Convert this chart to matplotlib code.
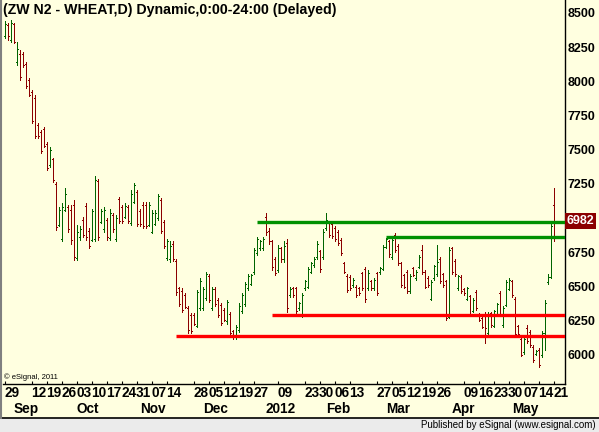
import numpy as np
import pandas as pd
import matplotlib
matplotlib.use('Agg')
import matplotlib.pyplot as plt
import matplotlib.transforms as mtransforms
from matplotlib.collections import LineCollection
from matplotlib.patches import Rectangle
from matplotlib.lines import Line2D

plt.rcParams['font.family'] = ['Liberation Sans', 'DejaVu Sans']

# ---- trading calendar (ZW N2 daily, Aug 29 2011 .. May 21 2012) ----------- #
HOLIDAYS = ['2011-09-05', '2011-11-24', '2011-12-26', '2012-01-02',
            '2012-01-16', '2012-02-20', '2012-04-06']

# ---- OHLC ----------------------------------------------------------------- #
high = [
    8445, 8425, 8450, 8430, 8290, 8230, 8215, 8145, 8025, 7935,
    7900, 7695, 7645, 7665, 7555, 7520, 7440, 7265, 7085, 7110,
    7220, 7095, 7095, 7135, 6950, 6940, 7010, 7110, 6925, 7070,
    7305, 7290, 7070, 7085, 7000, 7070, 7035, 7025, 7155, 7095,
    7110, 7095, 7205, 7255, 7205, 7065, 7120, 7120, 7120, 7060,
    7060, 7180, 7145, 6985, 6850, 6830, 6830, 6705, 6500, 6490,
    6450, 6355, 6305, 6305, 6475, 6560, 6500, 6610, 6595, 6500,
    6500, 6415, 6380, 6340, 6400, 6315, 6185, 6220, 6380, 6450,
    6535, 6595, 6595, 6780, 6865, 6840, 6865, 7035, 6925, 6840,
    6720, 6805, 6790, 6830, 6845, 6500, 6500, 6500, 6390, 6450,
    6550, 6645, 6680, 6720, 6830, 6770, 6920, 7035, 6975, 6975,
    6940, 6915, 6855, 6680, 6595, 6585, 6560, 6510, 6500, 6610,
    6645, 6620, 6550, 6560, 6610, 6645, 6805, 6855, 6840, 6855,
    6890, 6815, 6680, 6595, 6620, 6595, 6645, 6620, 6730, 6805,
    6620, 6575, 6550, 6660, 6805, 6720, 6600, 6550, 6790, 6790,
    6705, 6585, 6585, 6490, 6500, 6440, 6415, 6475, 6305, 6280,
    6315, 6315, 6315, 6330, 6380, 6465, 6355, 6550, 6560, 6550,
    6425, 6220, 6135, 6135, 6220, 6185, 6075, 6040, 6050, 6175,
    6400, 6590, 6970, 7220]
low = [
    8315, 8305, 8285, 8280, 8120, 8010, 8105, 7950, 7890, 7695,
    7585, 7585, 7475, 7520, 7350, 7375, 7265, 6915, 6940, 6830,
    7050, 6900, 6815, 6695, 6695, 6840, 6865, 6840, 6780, 6830,
    6830, 6840, 6965, 6900, 6840, 6840, 6900, 6830, 6965, 6965,
    7000, 6965, 6950, 7110, 6940, 6940, 6925, 6925, 6940, 6890,
    6950, 6985, 6890, 6780, 6695, 6680, 6690, 6440, 6355, 6315,
    6340, 6160, 6160, 6220, 6205, 6330, 6330, 6400, 6390, 6330,
    6355, 6280, 6220, 6245, 6230, 6145, 6120, 6120, 6170, 6305,
    6355, 6475, 6510, 6595, 6730, 6770, 6770, 6875, 6815, 6620,
    6585, 6610, 6680, 6680, 6315, 6425, 6425, 6305, 6330, 6280,
    6475, 6490, 6600, 6645, 6705, 6610, 6705, 6915, 6865, 6855,
    6830, 6805, 6730, 6600, 6460, 6475, 6500, 6425, 6440, 6475,
    6390, 6475, 6475, 6475, 6440, 6595, 6620, 6780, 6720, 6705,
    6755, 6660, 6500, 6490, 6450, 6450, 6575, 6550, 6635, 6595,
    6490, 6500, 6400, 6550, 6575, 6525, 6500, 6255, 6270, 6595,
    6575, 6475, 6450, 6440, 6400, 6290, 6315, 6330, 6245, 6195,
    6085, 6145, 6205, 6205, 6290, 6290, 6205, 6355, 6475, 6425,
    6135, 6135, 5990, 6010, 6085, 6060, 5950, 6000, 5915, 5985,
    6040, 6520, 6560, 6830]
opn = [
    8330, 8415, 8300, 8420, 8140, 8200, 8200, 8130, 8010, 7920,
    7880, 7680, 7630, 7650, 7540, 7390, 7430, 7250, 6950, 6850,
    7060, 7080, 7060, 7100, 6710, 6860, 6990, 7090, 6910, 6840,
    6850, 7270, 6975, 6920, 6985, 6855, 7020, 6845, 7140, 7080,
    7010, 7080, 6965, 7120, 7190, 7050, 7100, 7100, 6950, 6900,
    6960, 7000, 7130, 6970, 6710, 6700, 6810, 6690, 6490, 6470,
    6440, 6340, 6290, 6290, 6215, 6340, 6345, 6415, 6580, 6340,
    6485, 6400, 6365, 6330, 6245, 6300, 6175, 6130, 6185, 6320,
    6370, 6490, 6520, 6605, 6745, 6780, 6780, 7010, 6910, 6830,
    6700, 6620, 6780, 6700, 6820, 6440, 6490, 6490, 6340, 6300,
    6490, 6500, 6610, 6655, 6715, 6760, 6720, 6925, 6965, 6960,
    6925, 6900, 6840, 6670, 6580, 6570, 6510, 6500, 6490, 6600,
    6630, 6490, 6540, 6490, 6600, 6605, 6630, 6790, 6830, 6720,
    6880, 6800, 6670, 6585, 6610, 6465, 6635, 6560, 6645, 6770,
    6610, 6565, 6410, 6560, 6590, 6700, 6590, 6540, 6280, 6780,
    6690, 6490, 6570, 6480, 6410, 6430, 6325, 6460, 6295, 6270,
    6300, 6160, 6305, 6215, 6300, 6450, 6220, 6365, 6485, 6540,
    6410, 6210, 6120, 6020, 6200, 6170, 6060, 6010, 6040, 6000,
    6160, 6530, 6570, 7100]
close = [
    8420, 8330, 8425, 8290, 8240, 8030, 8120, 7970, 7900, 7710,
    7600, 7600, 7490, 7530, 7365, 7500, 7280, 6935, 7060, 7080,
    7180, 6920, 6840, 6720, 6900, 6920, 6880, 6860, 6800, 7050,
    7280, 6860, 7050, 7060, 6860, 7040, 6920, 7000, 6980, 6980,
    7090, 6980, 7180, 7240, 6960, 6955, 6945, 6940, 7100, 7040,
    7040, 7160, 6910, 6800, 6830, 6800, 6700, 6460, 6370, 6330,
    6350, 6180, 6175, 6230, 6460, 6540, 6480, 6590, 6405, 6480,
    6370, 6295, 6235, 6255, 6385, 6160, 6135, 6205, 6360, 6440,
    6520, 6580, 6585, 6770, 6850, 6830, 6850, 6900, 6830, 6640,
    6600, 6780, 6700, 6800, 6340, 6480, 6440, 6320, 6380, 6440,
    6540, 6630, 6670, 6705, 6815, 6625, 6900, 6990, 6880, 6870,
    6845, 6820, 6745, 6610, 6475, 6490, 6550, 6440, 6450, 6490,
    6410, 6600, 6490, 6545, 6455, 6635, 6790, 6845, 6735, 6840,
    6770, 6670, 6515, 6500, 6465, 6580, 6585, 6610, 6720, 6610,
    6500, 6510, 6530, 6650, 6680, 6540, 6510, 6270, 6770, 6610,
    6590, 6575, 6465, 6450, 6490, 6300, 6405, 6345, 6255, 6205,
    6200, 6300, 6220, 6320, 6370, 6300, 6340, 6530, 6550, 6440,
    6150, 6150, 6000, 6120, 6100, 6075, 5965, 6030, 5930, 6160,
    6380, 6570, 6940, 6982]

# support / resistance lines drawn on the chart
level_price = [6970, 6860, 6290, 6140]
level_start = ['2011-12-28', '2012-03-01', '2012-01-05', '2011-11-17']
level_color = ['#009000', '#009000', '#ff0000', '#ff0000']

day_ticks = ['2011-08-29', '2011-09-12', '2011-09-19', '2011-09-26', '2011-10-03',
             '2011-10-10', '2011-10-17', '2011-10-24', '2011-10-31', '2011-11-07',
             '2011-11-14', '2011-11-28', '2011-12-05', '2011-12-12', '2011-12-19',
             '2011-12-27', '2012-01-09', '2012-01-23', '2012-01-30', '2012-02-06',
             '2012-02-13', '2012-02-27', '2012-03-05', '2012-03-12', '2012-03-19',
             '2012-03-26', '2012-04-09', '2012-04-16', '2012-04-23', '2012-04-30',
             '2012-05-07', '2012-05-14', '2012-05-21']
month_ticks = ['2011-09-01', '2011-10-03', '2011-11-01', '2011-12-01', '2012-01-03',
               '2012-02-01', '2012-03-01', '2012-04-02', '2012-05-01']
month_names = ['Sep', 'Oct', 'Nov', 'Dec', '2012', 'Feb', 'Mar', 'Apr', 'May']
price_ticks = [6000, 6250, 6500, 6750, 7000, 7250, 7500, 7750, 8000, 8250, 8500]
last_price = 6982

BG = '#ffffe0'
UP = '#006400'
DOWN = '#8b0000'
W, H = 599, 432

dates = pd.bdate_range('2011-08-29', '2012-05-21')
dates = dates[~dates.isin(pd.to_datetime(HOLIDAYS))]
pos = {d: i for i, d in enumerate(dates)}


def idx(s):
    return pos[pd.Timestamp(s)]


fig = plt.figure(figsize=(W / 100, H / 100), dpi=100, facecolor=BG)
ax = fig.add_axes([3 / W, 48 / H, 562 / W, 384 / H], facecolor=BG)
x0 = -1.7 / 3
ax.set_xlim(x0, x0 + 562 / 3)
ax.set_ylim(5788, 8595)

# ---- OHLC bars ---------------------------------------------------------- #
segs, cols = [], []
for i, (h, l, o, c) in enumerate(zip(high, low, opn, close)):
    col = UP if c > o else DOWN
    segs += [[(i, l), (i, h)], [(i - 0.3, o), (i, o)], [(i, c), (i + 0.3, c)]]
    cols += [col] * 3
ax.add_collection(LineCollection(segs, colors=cols, linewidths=0.72,
                                 antialiaseds=False, zorder=3))

for p, s, col in zip(level_price, level_start, level_color):
    ax.plot([idx(s), x0 + 562 / 3], [p, p], color=col, lw=2.4,
            solid_capstyle='butt', zorder=4)

# ---- axes styling ------------------------------------------------------- #
for side in ('top', 'left'):
    ax.spines[side].set_visible(False)
for side in ('bottom', 'right'):
    ax.spines[side].set_color('black')
    ax.spines[side].set_linewidth(1.0)

ax.yaxis.tick_right()
ax.set_yticks(price_ticks)
ax.set_yticklabels([str(v) for v in price_ticks], fontweight='bold', fontsize=9)
ax.tick_params(axis='y', length=0, pad=2)

ax.set_xticks([idx(d) for d in day_ticks])
ax.tick_params(axis='x', direction='in', length=2, width=0.8, labelbottom=False)

xt = ax.get_xaxis_transform()
for d in day_ticks:
    ax.text(idx(d) - 0.2, -0.024, pd.Timestamp(d).strftime('%d'), transform=xt,
            ha='left', va='center', fontsize=9.8, fontweight='bold')
for d, name in zip(month_ticks, month_names):
    ax.text(idx(d), -0.066, name, transform=xt, ha='left', va='center',
            fontsize=9.8, fontweight='bold')

# last price flag
yt = mtransforms.blended_transform_factory(ax.transAxes, ax.transData)
ax.text(1.003, last_price, str(last_price), transform=yt, ha='left', va='center',
        fontsize=9, fontweight='bold', color='white', zorder=6,
        bbox=dict(boxstyle='square,pad=0.15', fc='#8b0000', ec='none'))

# ---- frame, title, credits ---------------------------------------------- #
fig.text(3 / W, 1 - 10 / H, '(ZW N2 - WHEAT,D) Dynamic,0:00-24:00 (Delayed)',
         fontsize=10.2, fontweight='bold', va='center', ha='left')
fig.text(4 / W, 1 - 377 / H, '\u00a9 eSignal, 2011', fontsize=5.5,
         va='center', ha='left')

fig.patches.append(Rectangle((0, 0), 1, 14 / H, transform=fig.transFigure,
                             fc='#ebebeb', ec='none'))
fig.lines.append(Line2D([0, 1], [14.5 / H, 14.5 / H], transform=fig.transFigure,
                        color='black', lw=1.2))
fig.lines.append(Line2D([1 / W, 1 / W], [14.5 / H, 1], transform=fig.transFigure,
                        color='#808080', lw=1.5))
fig.text(596 / W, 7 / H, 'Published by eSignal (www.esignal.com)', fontsize=7,
         ha='right', va='center')

fig.savefig('out.png', dpi=100, facecolor=BG)
